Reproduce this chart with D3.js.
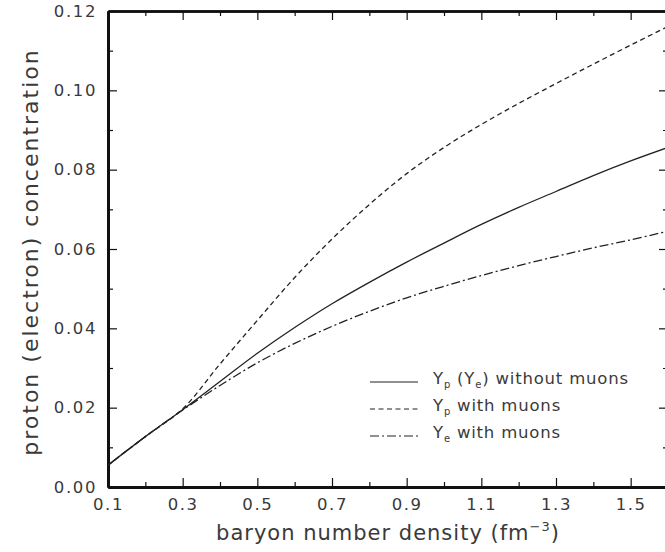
<!DOCTYPE html>
<html>
<head>
<meta charset="utf-8">
<script src="https://cdn.jsdelivr.net/npm/d3@7"></script>
<style>
  body { margin: 0; background: #fff; }
  text { font-family: "DejaVu Sans", sans-serif; fill: #3a3a3a; }
</style>
</head>
<body>
<svg id="chart"></svg>
<script>
// values
const density    = [0.1, 0.2, 0.3, 0.4, 0.5, 0.6, 0.7, 0.8, 0.9, 1.0, 1.1, 1.2, 1.3, 1.4, 1.5, 1.6];
const ypNoMuons  = [0.0055, 0.0127, 0.0195, 0.0266, 0.0337, 0.0402, 0.0462, 0.0516, 0.0567, 0.0615, 0.0662, 0.0705, 0.0745, 0.0785, 0.0822, 0.0856];
const ypMuons    = [0.0055, 0.0127, 0.0197, 0.0310, 0.0420, 0.0528, 0.0625, 0.0712, 0.0790, 0.0856, 0.0914, 0.0967, 0.1017, 0.1066, 0.1114, 0.1161];
const yeMuons    = [0.0055, 0.0127, 0.0194, 0.0256, 0.0313, 0.0362, 0.0405, 0.0443, 0.0477, 0.0506, 0.0533, 0.0558, 0.0581, 0.0603, 0.0623, 0.0645];

const xMajor = [0.1, 0.3, 0.5, 0.7, 0.9, 1.1, 1.3, 1.5];
const xMinor = [0.2, 0.4, 0.6, 0.8, 1.0, 1.2, 1.4, 1.6];
const yMajor = [0, 0.02, 0.04, 0.06, 0.08, 0.10, 0.12];
const yMinor = [0.01, 0.03, 0.05, 0.07, 0.09, 0.11];

const width = 665, height = 552;
const margin = {top: 11, right: -3, bottom: 65, left: 108};
const innerW = width - margin.left - margin.right;
const innerH = height - margin.top - margin.bottom;

let svg = d3.select("#chart").attr("width", width).attr("height", height);
let g = svg.append("g").attr("transform", "translate(" + margin.left + "," + margin.top + ")");

let x = d3.scaleLinear().domain([0.1, 1.6]).range([0, innerW]);
let y = d3.scaleLinear().domain([0, 0.12]).range([innerH, 0]);

// ticks point inwards on all four sides
function styleAxis(sel, thick) {
  sel.select(".domain").attr("stroke", "#111").attr("stroke-width", thick);
  sel.selectAll(".tick line").attr("stroke", "#111").attr("stroke-width", 1.2);
  sel.selectAll(".tick text").attr("font-size", 16.5).attr("letter-spacing", 1.6).attr("fill", "#3a3a3a");
}

g.append("g").attr("transform", "translate(0," + innerH + ")")
  .call(d3.axisBottom(x).tickValues(xMajor).tickSizeInner(-9).tickSizeOuter(0).tickPadding(11).tickFormat(d3.format(".1f")))
  .call(s => styleAxis(s, 3));
g.append("g").attr("transform", "translate(0," + innerH + ")")
  .call(d3.axisBottom(x).tickValues(xMinor).tickSizeInner(-5).tickSizeOuter(0).tickFormat(""))
  .call(s => styleAxis(s, 3));

g.append("g")
  .call(d3.axisTop(x).tickValues(xMajor).tickSizeInner(-9).tickSizeOuter(0).tickFormat(""))
  .call(s => styleAxis(s, 2.5));
g.append("g")
  .call(d3.axisTop(x).tickValues(xMinor).tickSizeInner(-5).tickSizeOuter(0).tickFormat(""))
  .call(s => styleAxis(s, 2.5));

g.append("g")
  .call(d3.axisLeft(y).tickValues(yMajor).tickSizeInner(-9).tickSizeOuter(0).tickPadding(11).tickFormat(d3.format(".2f")))
  .call(s => styleAxis(s, 3));
g.append("g")
  .call(d3.axisLeft(y).tickValues(yMinor).tickSizeInner(-5).tickSizeOuter(0).tickFormat(""))
  .call(s => styleAxis(s, 3));

g.append("g").attr("transform", "translate(" + innerW + ",0)")
  .call(d3.axisRight(y).tickValues(yMajor).tickSizeInner(-9).tickSizeOuter(0).tickFormat(""))
  .call(s => styleAxis(s, 2.5));
g.append("g").attr("transform", "translate(" + innerW + ",0)")
  .call(d3.axisRight(y).tickValues(yMinor).tickSizeInner(-5).tickSizeOuter(0).tickFormat(""))
  .call(s => styleAxis(s, 2.5));

// curves
const series = [
  {values: ypNoMuons, dash: null},
  {values: ypMuons, dash: "5,3.5"},
  {values: yeMuons, dash: "9,3,2,3"}
];

let line = d3.line()
  .x((d, i) => x(density[i]))
  .y(d => y(d))
  .curve(d3.curveCatmullRom);

series.forEach(s => {
  g.append("path")
    .datum(s.values)
    .attr("fill", "none")
    .attr("stroke", "#222")
    .attr("stroke-width", 1.3)
    .attr("stroke-dasharray", s.dash)
    .attr("d", line);
});

// legend
let legend = g.append("g").attr("transform", "translate(262,371)");
const legendRows = [
  [["Y", ""], ["p", "sub"], [" (Y", ""], ["e", "sub"], [") without muons", ""]],
  [["Y", ""], ["p", "sub"], [" with muons", ""]],
  [["Y", ""], ["e", "sub"], [" with muons", ""]]
];
legendRows.forEach((parts, i) => {
  let row = legend.append("g").attr("transform", "translate(0," + (i * 27) + ")");
  row.append("line")
    .attr("x1", 0).attr("x2", 48)
    .attr("stroke", "#222").attr("stroke-width", 1.2)
    .attr("stroke-dasharray", series[i].dash);
  let t = row.append("text").attr("x", 63).attr("y", 6).attr("font-size", 16.5).attr("letter-spacing", 0.8);
  parts.forEach(p => {
    if (p[1] === "sub") {
      t.append("tspan").attr("font-size", 10).attr("dy", 4).text(p[0]);
    } else {
      t.append("tspan").attr("dy", t.selectAll("tspan").size() ? -4 : 0).text(p[0]);
    }
  });
});

// axis titles
let xt = svg.append("text")
  .attr("x", margin.left + x(0.85))
  .attr("y", 540)
  .attr("text-anchor", "middle")
  .attr("font-size", 21)
  .attr("letter-spacing", 1);
xt.append("tspan").text("baryon number density (fm");
xt.append("tspan").attr("font-size", 13).attr("dy", -9).text("\u22123");
xt.append("tspan").attr("dy", 9).text(")");

svg.append("text")
  .attr("transform", "translate(38," + (margin.top + innerH / 2 + 3) + ") rotate(-90)")
  .attr("text-anchor", "middle")
  .attr("font-size", 22)
  .attr("letter-spacing", 2)
  .text("proton (electron) concentration");
</script>
</body>
</html>
